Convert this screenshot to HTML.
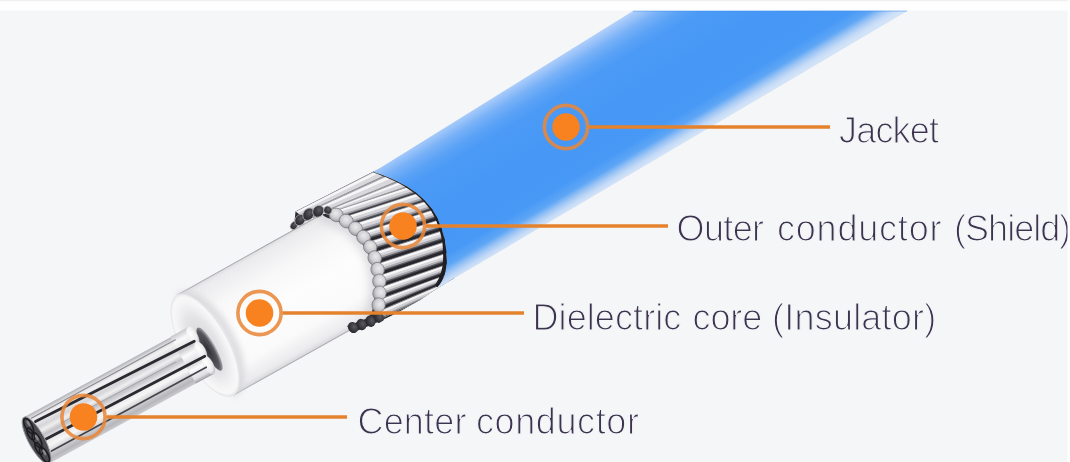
<!DOCTYPE html>
<html><head><meta charset="utf-8"><style>
html,body{margin:0;padding:0;background:#f5f6f8;}
body{width:1070px;height:462px;overflow:hidden;position:relative;}
svg{position:absolute;left:0;top:0;display:block;}
</style></head><body>
<svg width="1070" height="462" viewBox="0 0 1070 462">
<defs>
  <linearGradient id="gJacket" gradientUnits="userSpaceOnUse" x1="597.5" y1="32.4" x2="668.5" y2="150.6">
    <stop offset="0" stop-color="#b2d1fa"/>
    <stop offset="0.04" stop-color="#9cc4f9"/>
    <stop offset="0.1" stop-color="#78b1f7"/>
    <stop offset="0.18" stop-color="#5aa2f6"/>
    <stop offset="0.26" stop-color="#4b9af6"/>
    <stop offset="0.55" stop-color="#4697f6"/>
    <stop offset="0.82" stop-color="#4899f6"/>
    <stop offset="0.89" stop-color="#5ea6f5"/>
    <stop offset="0.935" stop-color="#9dc5f5"/>
    <stop offset="0.97" stop-color="#c2d9f6"/>
    <stop offset="1" stop-color="#d2e3f8"/>
  </linearGradient>
  <linearGradient id="gDiel" x1="0" y1="-57.8" x2="0" y2="57.8" gradientUnits="userSpaceOnUse">
    <stop offset="0" stop-color="#dcdce0"/>
    <stop offset="0.04" stop-color="#ebebed"/>
    <stop offset="0.25" stop-color="#f8f8f9"/>
    <stop offset="0.5" stop-color="#fdfdfd"/>
    <stop offset="0.8" stop-color="#fafafb"/>
    <stop offset="0.95" stop-color="#ebebed"/>
    <stop offset="1" stop-color="#d6d6da"/>
  </linearGradient>
  <radialGradient id="gDielRim" cx="0.5" cy="0.5" r="0.5">
    <stop offset="0" stop-color="#d6d6da"/>
    <stop offset="0.55" stop-color="#e4e4e7"/>
    <stop offset="0.8" stop-color="#f3f3f4"/>
    <stop offset="0.93" stop-color="#f8f8f9"/>
    <stop offset="1" stop-color="#e4e4e7"/>
  </radialGradient>
  <linearGradient id="gCond" x1="0" y1="-24" x2="0" y2="24" gradientUnits="userSpaceOnUse">
    <stop offset="0" stop-color="#b0b0b5"/>
    <stop offset="0.06" stop-color="#d8d8dc"/>
    <stop offset="0.15" stop-color="#f2f2f3"/>
    <stop offset="0.3" stop-color="#d6d6da"/>
    <stop offset="0.38" stop-color="#efeff0"/>
    <stop offset="0.47" stop-color="#c2c2c7"/>
    <stop offset="0.56" stop-color="#e4e4e7"/>
    <stop offset="0.7" stop-color="#f6f6f7"/>
    <stop offset="0.82" stop-color="#d0d0d4"/>
    <stop offset="0.92" stop-color="#b6b6bb"/>
    <stop offset="1" stop-color="#cbcbcf"/>
  </linearGradient>
  <linearGradient id="gStrand" x1="0" y1="0" x2="0" y2="1">
    <stop offset="0" stop-color="#c8c8cc"/>
    <stop offset="0.35" stop-color="#fafafa"/>
    <stop offset="0.8" stop-color="#e0e0e3"/>
    <stop offset="1" stop-color="#9a9aa0"/>
  </linearGradient>
  <radialGradient id="gTip" cx="0.42" cy="0.4" r="0.65">
    <stop offset="0" stop-color="#ebebed"/>
    <stop offset="0.55" stop-color="#cfcfd3"/>
    <stop offset="1" stop-color="#96969c"/>
  </radialGradient>
  <radialGradient id="gDTip" cx="0.5" cy="0.35" r="0.65">
    <stop offset="0" stop-color="#5a5a60"/>
    <stop offset="0.6" stop-color="#38383e"/>
    <stop offset="1" stop-color="#26262b"/>
  </radialGradient>
  <radialGradient id="gHole" cx="0.35" cy="0.5" r="0.65">
    <stop offset="0" stop-color="#303036"/>
    <stop offset="0.65" stop-color="#56565c"/>
    <stop offset="1" stop-color="#c0c0c4"/>
  </radialGradient>
  <radialGradient id="gStrandEnd" cx="0.4" cy="0.35" r="0.7">
    <stop offset="0" stop-color="#ffffff"/>
    <stop offset="0.7" stop-color="#ececee"/>
    <stop offset="1" stop-color="#b8b8be"/>
  </radialGradient>
  <filter id="soft" x="-5%" y="-5%" width="110%" height="110%"><feGaussianBlur stdDeviation="0.45"/></filter>
  <filter id="blur4" x="-20%" y="-20%" width="140%" height="140%"><feGaussianBlur stdDeviation="4"/></filter>
  <clipPath id="clipShield"><polygon points="250,150 700,0 908,10.5 437.3,288.3 420,300 340,345 250,345"/></clipPath>
  <filter id="blur3" x="-50%" y="-20%" width="200%" height="140%"><feGaussianBlur stdDeviation="3"/></filter>
</defs>
<rect width="1070" height="462" fill="#f5f6f8"/>
<g transform="translate(205.1,345.2) rotate(-29.2)">
<rect x="0" y="-57.8" width="200" height="115.6" fill="url(#gDiel)"/>
<line x1="0" y1="-57.4" x2="200" y2="-57.4" stroke="#a8a8ae" stroke-width="0.9"/>
<line x1="0" y1="57.4" x2="200" y2="57.4" stroke="#b0b0b5" stroke-width="0.9"/>
<path d="M0,-55 A26,55 0 0 1 0,55" fill="none" stroke="#d4d4d8" stroke-width="9" opacity="0.8" filter="url(#blur3)"/>
<ellipse cx="0" cy="0" rx="23" ry="57.8" fill="url(#gDielRim)"/>
<ellipse cx="2" cy="5.5" rx="6.2" ry="24.5" fill="url(#gHole)"/>
</g>
<path d="M322.0,214.0 C322.6,214.5 323.1,215.7 325.6,216.9 C328.1,218.1 333.1,219.2 336.9,221.1 C340.7,223.0 344.9,225.6 348.2,228.2 C351.5,230.8 353.8,233.3 356.6,236.6 C359.4,239.9 362.6,244.1 365.0,247.9 C367.4,251.7 369.3,255.4 370.7,259.2 C372.1,262.9 372.8,266.6 373.5,270.4 C374.2,274.1 374.8,277.9 375.0,281.7 C375.2,285.5 375.2,289.2 375.0,293.0 C374.8,296.8 374.0,301.1 373.5,304.2 C373.0,307.2 372.9,309.0 372.0,311.3 C371.1,313.6 368.7,316.9 368.0,318.0 " fill="none" stroke="#c4c4c9" stroke-width="12" opacity="0.55" filter="url(#blur4)"/>
<g transform="translate(38,443) rotate(-28.6) translate(0,-3) scale(1,1.1)">
<rect x="0" y="-24" width="187" height="48" fill="url(#gCond)"/>
<rect x="167" y="-24.5" width="20" height="19.0" fill="url(#gStrand)"/>
<ellipse cx="187" cy="-15" rx="5" ry="9.5" fill="url(#gStrandEnd)"/>
<rect x="167" y="-9" width="20" height="18" fill="url(#gStrand)"/>
<ellipse cx="187" cy="0" rx="5" ry="9" fill="url(#gStrandEnd)"/>
<rect x="167" y="5.0" width="20" height="19.0" fill="url(#gStrand)"/>
<ellipse cx="187" cy="14.5" rx="5" ry="9.5" fill="url(#gStrandEnd)"/>
<line x1="8" y1="-15.5" x2="186" y2="-10.5" stroke="#2a2a30" stroke-width="2.6" stroke-linecap="round"/>
<line x1="8" y1="3" x2="188" y2="6" stroke="#2a2a30" stroke-width="2.6" stroke-linecap="round"/>
<line x1="8" y1="15" x2="184" y2="15.5" stroke="#45454b" stroke-width="1.6" stroke-linecap="round"/>
<line x1="6" y1="-20" x2="170" y2="-20" stroke="#8a8a90" stroke-width="1.0" stroke-linecap="round"/>
<line x1="30" y1="-3" x2="160" y2="-2" stroke="#a0a0a6" stroke-width="0.9" stroke-linecap="round"/>
<ellipse cx="0" cy="0" rx="8" ry="24" fill="#4a4a50" stroke="#9a9aa0" stroke-width="0.8"/>
<ellipse cx="0" cy="-15" rx="3.4" ry="7.5" fill="none" stroke="#1c1c20" stroke-width="1.5"/>
<ellipse cx="0.5" cy="0" rx="3.4" ry="7.5" fill="none" stroke="#1c1c20" stroke-width="1.5"/>
<ellipse cx="0" cy="15" rx="3.4" ry="7.5" fill="none" stroke="#1c1c20" stroke-width="1.5"/>
<ellipse cx="-2" cy="-7.5" rx="2.7" ry="6.0" fill="none" stroke="#1c1c20" stroke-width="1.5"/>
<ellipse cx="-2" cy="7.5" rx="2.7" ry="6.0" fill="none" stroke="#1c1c20" stroke-width="1.5"/>
<ellipse cx="1" cy="-17" rx="1.2" ry="3" fill="#8a8a90"/>
<ellipse cx="1.5" cy="-2" rx="1.2" ry="3" fill="#8a8a90"/>
<ellipse cx="1" cy="13" rx="1.2" ry="3" fill="#8a8a90"/>
</g>
<g clip-path="url(#clipShield)">
<path d="M295.5,211.5 L373.6,171.5 L400,176 L440,205 L455,260 L441,293 L378,322 L352,333 L347,326 L368,318 L368.0,318.0 C368.7,316.9 371.1,313.6 372.0,311.3 C372.9,309.0 373.0,307.2 373.5,304.2 C374.0,301.1 374.8,296.8 375.0,293.0 C375.2,289.2 375.2,285.5 375.0,281.7 C374.8,277.9 374.2,274.1 373.5,270.4 C372.8,266.6 372.1,262.9 370.7,259.2 C369.3,255.4 367.4,251.7 365.0,247.9 C362.6,244.1 359.4,239.9 356.6,236.6 C353.8,233.3 351.5,230.8 348.2,228.2 C344.9,225.6 340.7,223.0 336.9,221.1 C333.1,219.2 328.1,218.1 325.6,216.9 C323.1,215.7 322.6,214.5 322.0,214.0  L310,219 L300,224 L294,226 Z" fill="#2e2e34"/>
<polygon points="295.5,211.5 387.8,164.2 399.5,169.8 301.0,215.0" fill="#a8a8ae"/>
<polygon points="295.9,211.8 388.8,164.7 399.5,169.8 301.0,215.0" fill="#f6f6f7"/>
<polygon points="297.7,212.9 392.5,166.5 399.5,169.8 301.0,215.0" fill="#d8d8dc"/>
<polygon points="300.2,214.5 397.9,169.0 399.5,169.8 301.0,215.0" fill="#8e8e94"/>
<polygon points="301.0,215.0 399.5,169.8 412.8,176.1 309.0,218.0" fill="#a8a8ae"/>
<polygon points="301.6,215.2 400.6,170.3 412.8,176.1 309.0,218.0" fill="#f6f6f7"/>
<polygon points="304.2,216.2 404.9,172.3 412.8,176.1 309.0,218.0" fill="#d8d8dc"/>
<polygon points="307.9,217.6 411.0,175.2 412.8,176.1 309.0,218.0" fill="#8e8e94"/>
<polygon points="309.0,218.0 412.8,176.1 422.4,182.0 331.0,212.0" fill="#a8a8ae"/>
<polygon points="310.8,217.5 413.6,176.6 422.4,182.0 331.0,212.0" fill="#f6f6f7"/>
<polygon points="317.8,215.6 416.6,178.5 422.4,182.0 331.0,212.0" fill="#d8d8dc"/>
<polygon points="327.9,212.8 421.0,181.2 422.4,182.0 331.0,212.0" fill="#8e8e94"/>
<polygon points="331.0,212.0 422.4,182.0 431.8,188.6 341.5,217.7" fill="#8a8a90"/>
<polygon points="331.6,212.3 422.9,182.4 431.8,188.6 341.5,217.7" fill="#f7f7f8"/>
<polygon points="334.1,213.7 425.2,184.0 431.8,188.6 341.5,217.7" fill="#d6d6da"/>
<polygon points="337.3,215.4 428.0,186.0 431.8,188.6 341.5,217.7" fill="#a6a6ac"/>
<polygon points="339.2,216.5 429.7,187.2 431.8,188.6 341.5,217.7" fill="#5a5a60"/>
<polygon points="340.2,217.0 430.6,187.8 431.8,188.6 341.5,217.7" fill="#3a3a40"/>
<polygon points="341.5,217.7 431.8,188.6 440.1,196.4 351.2,224.5" fill="#8a8a90"/>
<polygon points="342.1,218.1 432.3,189.1 440.1,196.4 351.2,224.5" fill="#f7f7f8"/>
<polygon points="344.4,219.8 434.3,191.0 440.1,196.4 351.2,224.5" fill="#d6d6da"/>
<polygon points="347.3,221.8 436.8,193.3 440.1,196.4 351.2,224.5" fill="#a6a6ac"/>
<polygon points="349.1,223.0 438.3,194.7 440.1,196.4 351.2,224.5" fill="#5a5a60"/>
<polygon points="350.1,223.7 439.1,195.5 440.1,196.4 351.2,224.5" fill="#3a3a40"/>
<polygon points="351.2,224.5 440.1,196.4 447.7,204.9 359.9,232.7" fill="#8a8a90"/>
<polygon points="351.7,225.0 440.6,196.9 447.7,204.9 359.9,232.7" fill="#f7f7f8"/>
<polygon points="353.8,227.0 442.4,199.0 447.7,204.9 359.9,232.7" fill="#d6d6da"/>
<polygon points="356.4,229.4 444.7,201.5 447.7,204.9 359.9,232.7" fill="#a6a6ac"/>
<polygon points="358.0,230.9 446.1,203.1 447.7,204.9 359.9,232.7" fill="#5a5a60"/>
<polygon points="358.8,231.7 446.8,203.9 447.7,204.9 359.9,232.7" fill="#3a3a40"/>
<polygon points="359.9,232.7 447.7,204.9 452.9,215.2 367.3,241.9" fill="#7a7a80"/>
<polygon points="360.3,233.2 448.1,205.6 452.9,215.2 367.3,241.9" fill="#f7f7f8"/>
<polygon points="361.8,235.1 449.1,207.6 452.9,215.2 367.3,241.9" fill="#d8d8dc"/>
<polygon points="363.4,237.1 450.2,209.9 452.9,215.2 367.3,241.9" fill="#aaaab0"/>
<polygon points="364.6,238.6 451.1,211.5 452.9,215.2 367.3,241.9" fill="#525258"/>
<polygon points="365.5,239.7 451.7,212.7 452.9,215.2 367.3,241.9" fill="#26262c"/>
<polygon points="367.3,241.9 452.9,215.2 457.1,225.7 373.0,252.3" fill="#7a7a80"/>
<polygon points="367.6,242.6 453.2,215.8 457.1,225.7 373.0,252.3" fill="#f7f7f8"/>
<polygon points="368.8,244.6 454.0,217.9 457.1,225.7 373.0,252.3" fill="#d8d8dc"/>
<polygon points="370.0,246.9 455.0,220.2 457.1,225.7 373.0,252.3" fill="#aaaab0"/>
<polygon points="371.0,248.6 455.6,221.9 457.1,225.7 373.0,252.3" fill="#525258"/>
<polygon points="371.6,249.8 456.1,223.2 457.1,225.7 373.0,252.3" fill="#26262c"/>
<polygon points="373.0,252.3 457.1,225.7 460.2,236.6 376.4,263.7" fill="#7a7a80"/>
<polygon points="373.2,253.0 457.3,226.4 460.2,236.6 376.4,263.7" fill="#f7f7f8"/>
<polygon points="373.9,255.3 457.9,228.5 460.2,236.6 376.4,263.7" fill="#d8d8dc"/>
<polygon points="374.6,257.8 458.6,230.9 460.2,236.6 376.4,263.7" fill="#aaaab0"/>
<polygon points="375.2,259.6 459.1,232.7 460.2,236.6 376.4,263.7" fill="#525258"/>
<polygon points="375.6,261.0 459.4,234.0 460.2,236.6 376.4,263.7" fill="#26262c"/>
<polygon points="376.4,263.7 460.2,236.6 461.5,247.8 378.9,275.4" fill="#7a7a80"/>
<polygon points="376.5,264.4 460.2,237.3 461.5,247.8 378.9,275.4" fill="#f7f7f8"/>
<polygon points="377.0,266.8 460.5,239.5 461.5,247.8 378.9,275.4" fill="#d8d8dc"/>
<polygon points="377.6,269.3 460.8,242.0 461.5,247.8 378.9,275.4" fill="#aaaab0"/>
<polygon points="378.0,271.2 461.0,243.8 461.5,247.8 378.9,275.4" fill="#525258"/>
<polygon points="378.3,272.6 461.1,245.1 461.5,247.8 378.9,275.4" fill="#26262c"/>
<polygon points="378.9,275.4 461.5,247.8 461.5,259.1 379.8,287.3" fill="#7a7a80"/>
<polygon points="378.9,276.1 461.5,248.5 461.5,259.1 379.8,287.3" fill="#f7f7f8"/>
<polygon points="379.1,278.5 461.5,250.8 461.5,259.1 379.8,287.3" fill="#d8d8dc"/>
<polygon points="379.3,281.1 461.5,253.2 461.5,259.1 379.8,287.3" fill="#aaaab0"/>
<polygon points="379.5,283.0 461.5,255.0 461.5,259.1 379.8,287.3" fill="#525258"/>
<polygon points="379.6,284.4 461.5,256.4 461.5,259.1 379.8,287.3" fill="#26262c"/>
<polygon points="379.8,287.3 461.5,259.1 459.0,270.0 379.2,299.1" fill="#7a7a80"/>
<polygon points="379.8,288.0 461.4,259.8 459.0,270.0 379.2,299.1" fill="#f7f7f8"/>
<polygon points="379.7,290.4 460.9,261.9 459.0,270.0 379.2,299.1" fill="#d8d8dc"/>
<polygon points="379.5,293.0 460.3,264.3 459.0,270.0 379.2,299.1" fill="#aaaab0"/>
<polygon points="379.4,294.9 459.9,266.0 459.0,270.0 379.2,299.1" fill="#525258"/>
<polygon points="379.4,296.3 459.6,267.3 459.0,270.0 379.2,299.1" fill="#26262c"/>
<polygon points="379.2,299.1 459.0,270.0 453.3,279.1 378.0,311.0" fill="#7a7a80"/>
<polygon points="379.2,299.9 458.7,270.5 453.3,279.1 378.0,311.0" fill="#f7f7f8"/>
<polygon points="378.9,302.2 457.5,272.3 453.3,279.1 378.0,311.0" fill="#d8d8dc"/>
<polygon points="378.6,304.8 456.3,274.4 453.3,279.1 378.0,311.0" fill="#aaaab0"/>
<polygon points="378.4,306.7 455.4,275.8 453.3,279.1 378.0,311.0" fill="#525258"/>
<polygon points="378.3,308.2 454.7,276.9 453.3,279.1 378.0,311.0" fill="#26262c"/>
<polygon points="378.0,311.0 453.3,279.1 454.5,284.8 377.0,320.5" fill="#6a6a70"/>
<polygon points="377.9,311.9 453.4,279.7 454.5,284.8 377.0,320.5" fill="#f2f2f3"/>
<polygon points="377.6,314.8 453.8,281.4 454.5,284.8 377.0,320.5" fill="#d0d0d4"/>
<polygon points="377.3,317.6 454.2,283.1 454.5,284.8 377.0,320.5" fill="#a0a0a6"/>
<polygon points="377.1,319.4 454.4,284.1 454.5,284.8 377.0,320.5" fill="#5a5a60"/>
<ellipse cx="336.2" cy="214.9" rx="7.3" ry="6.7" transform="rotate(28.6 336.2 214.9)" fill="url(#gTip)" stroke="#7a7a80" stroke-width="0.7"/>
<ellipse cx="346.3" cy="221.1" rx="7.3" ry="6.7" transform="rotate(35.0 346.3 221.1)" fill="url(#gTip)" stroke="#7a7a80" stroke-width="0.7"/>
<ellipse cx="355.6" cy="228.6" rx="7.2" ry="6.7" transform="rotate(43.2 355.6 228.6)" fill="url(#gTip)" stroke="#7a7a80" stroke-width="0.7"/>
<ellipse cx="363.6" cy="237.3" rx="7.2" ry="6.7" transform="rotate(51.3 363.6 237.3)" fill="url(#gTip)" stroke="#7a7a80" stroke-width="0.7"/>
<ellipse cx="370.2" cy="247.1" rx="7.2" ry="6.6" transform="rotate(61.1 370.2 247.1)" fill="url(#gTip)" stroke="#7a7a80" stroke-width="0.7"/>
<ellipse cx="374.7" cy="258.0" rx="7.3" ry="6.7" transform="rotate(73.6 374.7 258.0)" fill="url(#gTip)" stroke="#7a7a80" stroke-width="0.7"/>
<ellipse cx="377.6" cy="269.6" rx="7.3" ry="6.7" transform="rotate(77.9 377.6 269.6)" fill="url(#gTip)" stroke="#7a7a80" stroke-width="0.7"/>
<ellipse cx="379.3" cy="281.3" rx="7.3" ry="6.7" transform="rotate(85.5 379.3 281.3)" fill="url(#gTip)" stroke="#7a7a80" stroke-width="0.7"/>
<ellipse cx="379.5" cy="293.2" rx="7.3" ry="6.7" transform="rotate(92.7 379.5 293.2)" fill="url(#gTip)" stroke="#7a7a80" stroke-width="0.7"/>
<ellipse cx="378.6" cy="305.1" rx="7.3" ry="6.7" transform="rotate(96.0 378.6 305.1)" fill="url(#gTip)" stroke="#7a7a80" stroke-width="0.7"/>
<ellipse cx="294" cy="225.5" rx="3.4" ry="4.4" transform="rotate(35 294 225.5)" fill="url(#gDTip)" stroke="#bcbcc0" stroke-width="0.7"/>
<ellipse cx="300" cy="220" rx="4.8" ry="5.9" transform="rotate(35 300 220)" fill="url(#gDTip)" stroke="#bcbcc0" stroke-width="0.7"/>
<ellipse cx="308.5" cy="214.2" rx="5.2" ry="6.6" transform="rotate(35 308.5 214.2)" fill="url(#gDTip)" stroke="#bcbcc0" stroke-width="0.7"/>
<ellipse cx="318.3" cy="211.3" rx="5.3" ry="6.2" transform="rotate(35 318.3 211.3)" fill="url(#gDTip)" stroke="#bcbcc0" stroke-width="0.7"/>
<ellipse cx="327.8" cy="210.2" rx="4.2" ry="4.0" transform="rotate(35 327.8 210.2)" fill="url(#gDTip)" stroke="#bcbcc0" stroke-width="0.7"/>
<ellipse cx="353" cy="327.5" rx="5.8" ry="4.8" transform="rotate(60 353 327.5)" fill="url(#gDTip)"/>
<ellipse cx="361.5" cy="324.5" rx="5.8" ry="4.8" transform="rotate(65 361.5 324.5)" fill="url(#gDTip)"/>
<ellipse cx="370.5" cy="321.2" rx="5.8" ry="4.8" transform="rotate(70 370.5 321.2)" fill="url(#gDTip)"/>
<ellipse cx="379" cy="317.5" rx="5.8" ry="4.8" transform="rotate(60 379 317.5)" fill="url(#gDTip)"/>
</g>
<path d="M373.6,172 L633,11 L908,10.5 L437.3,288.3 C438.3,285.8 441.8,281.8 443.3,278.2 C444.8,274.6 445.9,270.1 446.4,266.0 C446.9,261.9 446.7,258.2 446.4,253.9 C446.1,249.6 445.8,245.1 444.8,240.3 C443.8,235.5 442.3,230.2 440.3,225.2 C438.3,220.1 436.0,214.8 432.7,210.0 C429.4,205.2 425.1,200.4 420.6,196.4 C416.1,192.4 410.6,188.8 405.5,185.8 C400.4,182.8 395.6,180.5 390.3,178.2 C385.0,175.9 376.4,173.0 373.6,172.0  Z" fill="url(#gJacket)"/>
<path d="M373.6,172.0 C376.4,173.0 385.0,175.9 390.3,178.2 C395.6,180.5 400.4,182.8 405.5,185.8 C410.6,188.8 416.1,192.4 420.6,196.4 C425.1,200.4 429.4,205.2 432.7,210.0 C436.0,214.8 438.3,220.1 440.3,225.2 C442.3,230.2 443.8,235.5 444.8,240.3 C445.8,245.1 446.1,249.6 446.4,253.9 C446.7,258.2 446.9,261.9 446.4,266.0 C445.9,270.1 444.8,274.6 443.3,278.2 C441.8,281.8 438.3,285.8 437.3,287.3  L434.8,285.6 C435.6,284.1 438.3,280.0 439.6,276.6 C440.9,273.3 442.0,269.3 442.6,265.5 C443.2,261.8 443.2,258.2 443.1,254.1 C443.0,250.0 442.9,245.6 442.1,240.9 C441.2,236.2 440.0,231.0 438.2,226.1 C436.4,221.1 434.3,215.8 431.2,211.0 C428.1,206.2 424.0,201.5 419.7,197.4 C415.3,193.4 409.9,189.8 404.9,186.7 C400.0,183.7 395.2,181.4 389.9,179.0 C384.7,176.7 376.1,173.6 373.4,172.6  Z" fill="#1e1e24"/>
<line x1="589.0" y1="127" x2="830" y2="127" stroke="#e5822c" stroke-width="3.4"/>
<circle cx="566" cy="127" r="21.6" fill="none" stroke="#e8873a" stroke-opacity="0.88" stroke-width="3.6"/>
<circle cx="566" cy="127" r="13.8" fill="#f7821f"/>
<line x1="426.0" y1="226" x2="668" y2="226" stroke="#e5822c" stroke-width="3.4"/>
<circle cx="403" cy="226" r="21.6" fill="none" stroke="#e8873a" stroke-opacity="0.88" stroke-width="3.6"/>
<circle cx="403" cy="226" r="13.8" fill="#f7821f"/>
<line x1="282.5" y1="313" x2="524" y2="313" stroke="#e5822c" stroke-width="3.4"/>
<circle cx="259.5" cy="313" r="21.6" fill="none" stroke="#e8873a" stroke-opacity="0.88" stroke-width="3.6"/>
<circle cx="259.5" cy="313" r="13.8" fill="#f7821f"/>
<line x1="106.5" y1="417" x2="347" y2="417" stroke="#e5822c" stroke-width="3.4"/>
<circle cx="83.5" cy="417" r="21.6" fill="none" stroke="#e8873a" stroke-opacity="0.88" stroke-width="3.6"/>
<circle cx="83.5" cy="417" r="13.8" fill="#f7821f"/>
<g opacity="0.995" font-family="Liberation Sans, sans-serif" font-size="36" fill="#3b3350" stroke="#f5f6f8" stroke-width="1.2"><text x="839.0" y="143" textLength="100.0" lengthAdjust="spacing">Jacket</text>
<text x="676.5" y="240.5" textLength="87.6" lengthAdjust="spacing">Outer</text>
<text x="777.0" y="240.5" textLength="164.5" lengthAdjust="spacing">conductor</text>
<text x="954.0" y="240.5" textLength="117.3" lengthAdjust="spacing">(Shield)</text>
<text x="532.5" y="330" textLength="148.8" lengthAdjust="spacing">Dielectric</text>
<text x="692.5" y="330" textLength="69.8" lengthAdjust="spacing">core</text>
<text x="772.0" y="330" textLength="164.3" lengthAdjust="spacing">(Insulator)</text>
<text x="357.5" y="433.5" textLength="108.9" lengthAdjust="spacing">Center</text>
<text x="476.0" y="433.5" textLength="162.9" lengthAdjust="spacing">conductor</text></g>
<rect x="0" y="0" width="1070" height="10.5" fill="#fefefe"/>
<rect x="0" y="0" width="1070" height="1.2" fill="#efefef"/>
<line x1="633" y1="11.2" x2="907" y2="11.2" stroke="#3f8fee" stroke-width="1.2" opacity="0.4"/>
<rect x="1067.5" y="0" width="2.5" height="462" fill="#fefefe"/>
</svg>
</body></html>
